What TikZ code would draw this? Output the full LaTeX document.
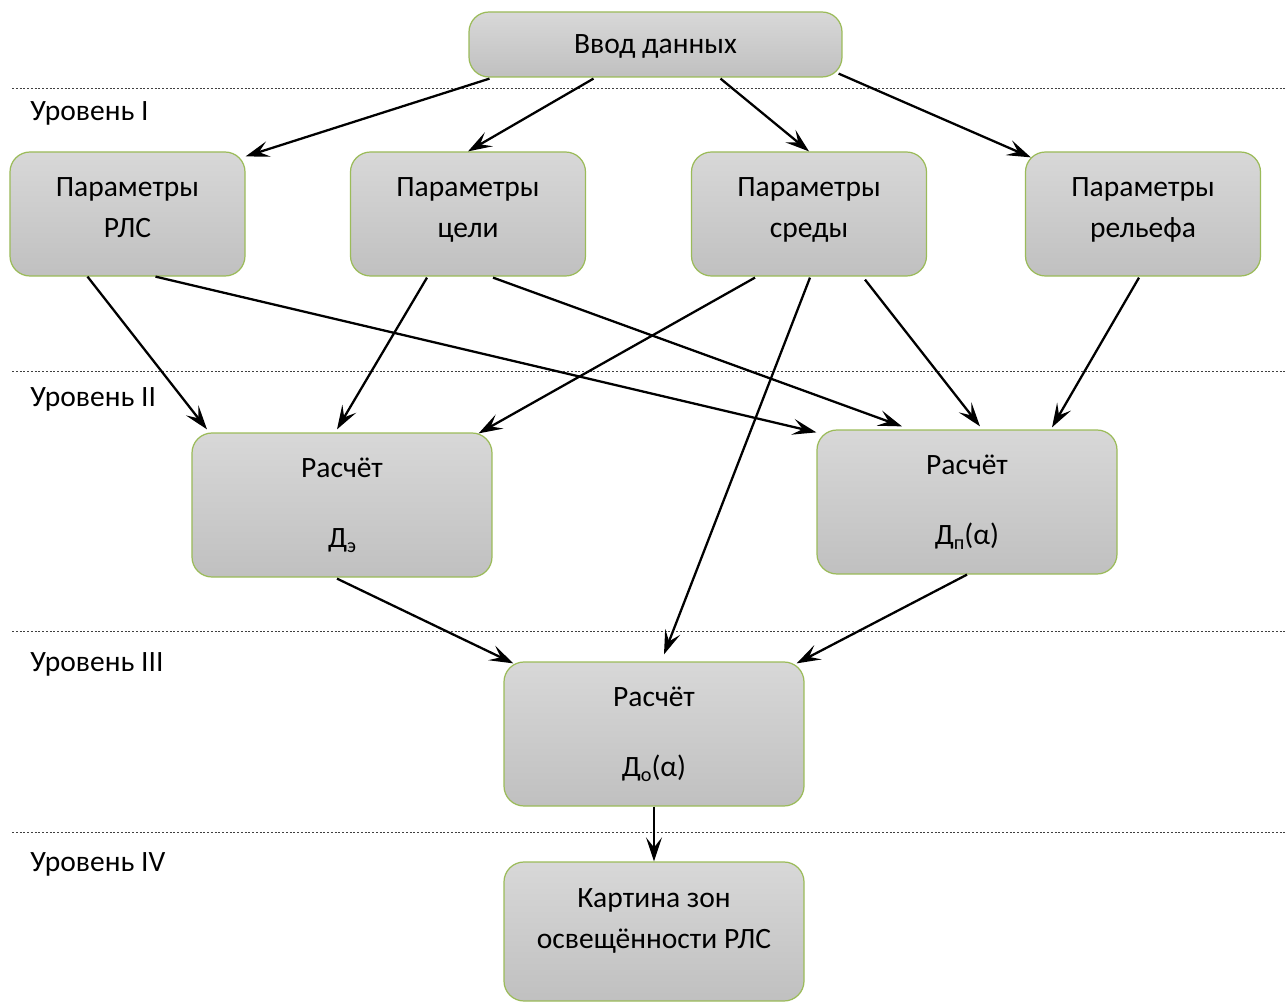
\documentclass[tikz,border=0pt]{standalone}
\usepackage{fontspec}
\setmainfont{Carlito}
\usetikzlibrary{arrows.meta,calc}

\definecolor{boxtop}{RGB}{216,216,216}
\definecolor{boxbot}{RGB}{192,192,192}
\definecolor{boxline}{RGB}{155,187,89}
\newcommand{\lowidx}[1]{\raisebox{-0.35ex}{\fontsize{11.5}{12}\selectfont #1}}

\begin{document}
\begin{tikzpicture}[x=0.2mm,y=-0.2mm,>={Stealth[length=4.8mm,width=3.2mm,inset=2mm]},
                    every node/.style={font=\fontsize{16.8}{23}\selectfont},
                    block/.style={rectangle,rounded corners=4mm,draw=boxline,line width=0.7pt,
                                  top color=boxtop,bottom color=boxbot,align=center,inner sep=0pt},
                    param/.style={block,minimum width=47mm,minimum height=24.8mm,text depth=2.6mm},
                    calcbox/.style={block,minimum width=60mm,minimum height=28.8mm},
                    level/.style={anchor=west,inner sep=0pt},
                    levelline/.style={line width=0.5pt,gray!50!black,dash pattern=on 0.4mm off 0.35mm},
                    link/.style={->,line width=1.3pt}]
  \useasboundingbox (0,0) rectangle (1287,1003);

  % levels
  \draw[levelline] (12,88) -- (1287,88);
  \draw[levelline] (12,371) -- (1287,371);
  \draw[levelline] (12,631) -- (1287,631);
  \draw[levelline] (12,832) -- (1287,832);
  \node[level] (lev1) at (30,113) {Уровень I};
  \node[level] (lev2) at (30,399) {Уровень II};
  \node[level] (lev3) at (30,664) {Уровень III};
  \node[level] (lev4) at (30,864) {Уровень IV};

  % boxes
  \node[block,minimum width=74.6mm,minimum height=13mm,text depth=0pt] (vvod) at (655.5,44.5) {Ввод данных};
  \node[param] (rls) at (127.5,214) {Параметры\\РЛС};
  \node[param] (celi) at (468,214) {Параметры\\цели};
  \node[param] (sredy) at (809,214) {Параметры\\среды};
  \node[param] (relief) at (1143,214) {Параметры\\рельефа};
  \node[calcbox] (de) at (342,505) {Расчёт\\[17pt]Д\lowidx{э}};
  \node[calcbox] (dp) at (967,502) {Расчёт\\[17pt]Д\lowidx{п}(α)};
  \node[calcbox] (do) at (654,734) {Расчёт\\[17pt]Д\lowidx{о}(α)};
  \node[block,minimum width=60mm,minimum height=27.8mm] (kartina) at (654,931.5) {};
  \node[align=center] (kartinaText) at (654,921) {Картина зон\\освещённости РЛС};

  % links
  \draw[link] ($(vvod.south)+(-166,1)$) -- ($(rls.north east)+(0,5)$);
  \draw[link] ($(vvod.south)+(-62,1)$) -- (celi.north);
  \draw[link] ($(vvod.south)+(65,1)$) -- (sredy.north);
  \draw[link] ($(vvod.south east)+(-4,-4)$) -- ($(relief.north west)+(6,6)$);
  \draw[link] ($(rls.south)+(-40,0)$) -- ($(de.north)+(-135,-3)$);
  \draw[link] ($(rls.south)+(28,0)$) -- ($(dp.north west)+(0,3)$);
  \draw[link] ($(celi.south)+(-41,1)$) -- ($(de.north)+(-5,-3)$);
  \draw[link] ($(celi.south)+(25,1)$) -- ($(dp.north)+(-65,-3)$);
  \draw[link] ($(sredy.south)+(-54,1)$) -- ($(de.north east)+(-14,1)$);
  \draw[link] ($(sredy.south)+(1,1)$) -- ($(do.north)+(10,-7)$);
  \draw[link] ($(sredy.south)+(56,3)$) -- ($(dp.north)+(13,-3)$);
  \draw[link] ($(relief.south)+(-4,1)$) -- ($(dp.north)+(85,-2)$);
  \draw[link] ($(de.south)+(-5,1)$) -- ($(do.north west)+(10,2)$);
  \draw[link] (dp.south) -- ($(do.north east)+(-8,2)$);
  \draw[link] (do.south) -- (kartina.north);
\end{tikzpicture}
\end{document}
